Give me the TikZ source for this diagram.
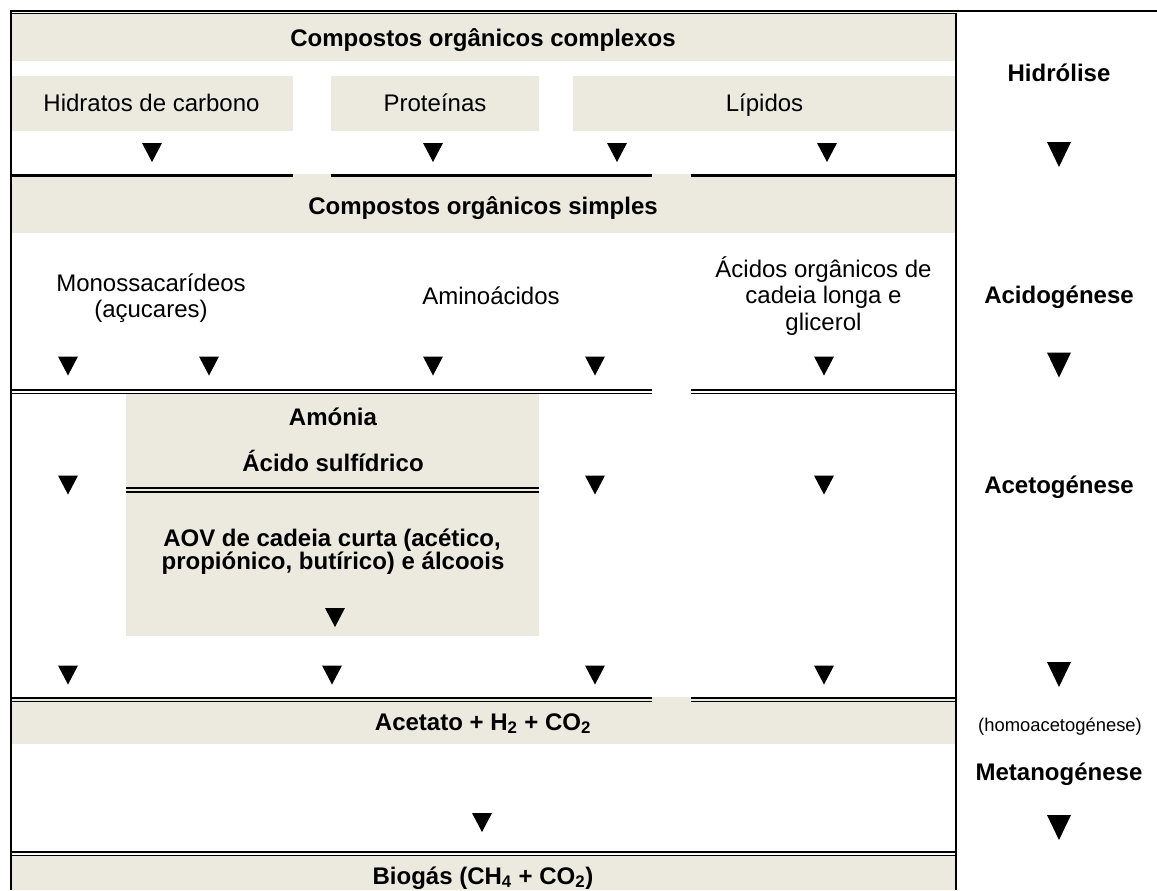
\documentclass[tikz,border=0pt]{standalone}
\usepackage{fontspec}
\setmainfont{Liberation Sans}
\definecolor{bandfill}{HTML}{ECEADF}
\begin{document}
\begin{tikzpicture}[x=0.75pt,y=-0.75pt,
  txt/.style={anchor=base,inner sep=0pt,font=\fontsize{18}{20}\selectfont},
  btxt/.style={anchor=base,inner sep=0pt,font=\fontsize{18}{20}\selectfont\bfseries},
  stxt/.style={anchor=base,inner sep=0pt,font=\fontsize{13.8}{16}\selectfont},
  thick rule/.style={line width=2.25pt},
  rule/.style={line width=1.5pt},
  thin rule/.style={line width=1.05pt},
  tri/.pic={\fill (-10,-9.5) -- (10,-9.5) -- (0,9.5) -- cycle;},
  bigtri/.pic={\fill (-12,-12.5) -- (12,-12.5) -- (0,12.5) -- cycle;}]
\useasboundingbox (0,0) rectangle (1157,890);
% fills
\fill[bandfill] (10,13) rectangle (956,61);
\fill[bandfill] (10,76) rectangle (293,131);
\fill[bandfill] (331,76) rectangle (539,131);
\fill[bandfill] (573,76) rectangle (956,131);
\fill[bandfill] (10,174) rectangle (956,233);
\fill[bandfill] (126,394) rectangle (539,636);
\fill[bandfill] (10,697) rectangle (956,744);
\fill[bandfill] (10,855) rectangle (956,890);
% frame
\draw[rule] (9.5,10.5) -- (1157,10.5);
\draw[thin rule] (10,13.2) -- (956,13.2);
\draw[rule] (10.5,9.5) -- (10.5,890);
\draw[rule] (955.8,12.5) -- (955.8,890);
% row rules
\draw[thick rule] (10,175.5) -- (293,175.5);
\draw[thick rule] (331,175.5) -- (652,175.5);
\draw[thick rule] (691,175.5) -- (956,175.5);
\draw[rule] (10,389.6) -- (652,389.6);
\draw[thin rule] (10,393.4) -- (652,393.4);
\draw[rule] (691,389.6) -- (956,389.6);
\draw[thin rule] (691,393.4) -- (956,393.4);
\draw[rule] (126,488.4) -- (539,488.4);
\draw[thin rule] (126,491.9) -- (539,491.9);
\draw[rule] (10,698.2) -- (652,698.2);
\draw[thin rule] (10,701.6) -- (652,701.6);
\draw[rule] (691,698.2) -- (956,698.2);
\draw[thin rule] (691,701.6) -- (956,701.6);
\draw[rule] (10,852) -- (956,852);
\draw[thin rule] (10,855.5) -- (956,855.5);
% texts
\node[btxt] (cplx) at (483,46) {Compostos orgânicos complexos};
\node[txt] (hc) at (151.5,111.5) {Hidratos de carbono};
\node[txt] (prot) at (435,111.5) {Proteínas};
\node[txt] (lip) at (764.5,111.5) {Lípidos};
\node[btxt] (hidr) at (1059,81) {Hidrólise};
\node[btxt] (simp) at (483,214) {Compostos orgânicos simples};
\node[txt] (mono1) at (151,291) {Monossacarídeos};
\node[txt] (mono2) at (151,317.5) {(açucares)};
\node[txt] (amino) at (491,304) {Aminoácidos};
\node[txt] (acl1) at (823.5,277) {Ácidos orgânicos de};
\node[txt] (acl2) at (823.5,303.5) {cadeia longa e};
\node[txt] (acl3) at (823.5,330) {glicerol};
\node[btxt] (acid) at (1059,303.5) {Acidogénese};
\node[btxt] (amon) at (333,425) {Amónia};
\node[btxt] (h2s) at (333,471.5) {Ácido sulfídrico};
\node[btxt] (aov1) at (332,546.5) {AOV de cadeia curta (acético,};
\node[btxt] (aov2) at (333,569.5) {propiónico, butírico) e álcoois};
\node[btxt] (acet) at (1059,493) {Acetogénese};
\node[btxt] (acto) at (483,730) {Acetato + H\textsubscript{2} + CO\textsubscript{2}};
\node[stxt] (homo) at (1060,731.5) {(homoacetogénese)};
\node[btxt] (meta) at (1059,780) {Metanogénese};
\node[btxt] (biog) at (483,884) {Biogás (CH\textsubscript{4} + CO\textsubscript{2})};
% arrows (triangles)
\foreach \x in {152,433,617,827} \pic at (\x,152.5) {tri};
\foreach \x in {68,209,433,595,824} \pic at (\x,366) {tri};
\foreach \x in {68,595,824} \pic at (\x,485) {tri};
\pic at (335,617.5) {tri};
\foreach \x in {68,332,595,824} \pic at (\x,675) {tri};
\pic at (482,822.5) {tri};
\pic at (1059,154.5) {bigtri};
\pic at (1059,365) {bigtri};
\pic at (1059,674.5) {bigtri};
\pic at (1059,827.5) {bigtri};
\end{tikzpicture}
\end{document}
